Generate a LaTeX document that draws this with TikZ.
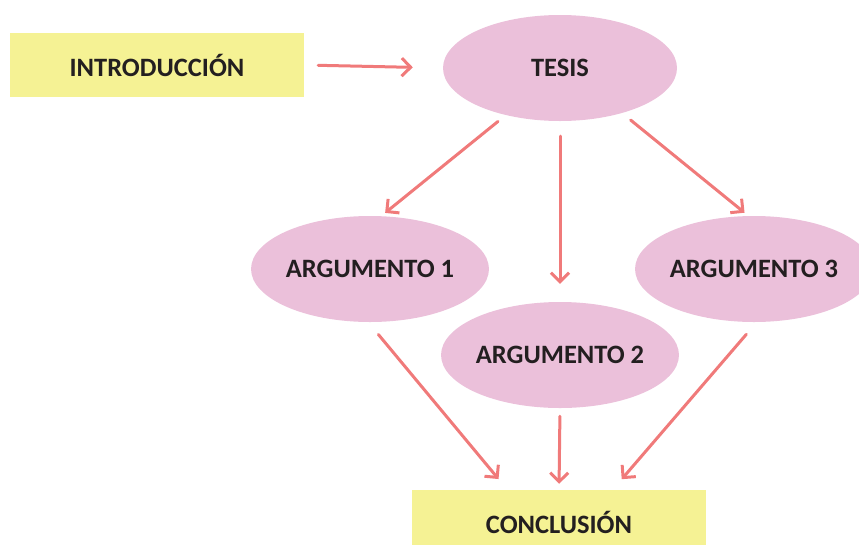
\documentclass[tikz,border=0pt]{standalone}
\usepackage{fontspec}
\setmainfont{Carlito}
\usepackage{xcolor}
\usetikzlibrary{shapes.geometric,arrows.meta,positioning}
\definecolor{boxyellow}{RGB}{245,242,148}
\definecolor{ovalpink}{RGB}{235,192,218}
\definecolor{arrowred}{RGB}{240,122,122}
\definecolor{textdark}{RGB}{35,31,32}

\begin{document}
\begin{tikzpicture}[x=1pt,y=-1pt,
        rectbox/.style={fill=boxyellow,minimum width=294pt,minimum height=64pt,
                        inner sep=0pt,text=textdark,font=\fontsize{26.5}{30}\selectfont\bfseries},
        oval/.style={ellipse,fill=ovalpink,minimum width=234pt,minimum height=106pt,
                     inner sep=0pt,text=textdark,font=\fontsize{26.5}{30}\selectfont\bfseries},
        arrow/.style={-{Straight Barb[length=9pt,width=18pt,line width=3pt]},
                      line width=3pt,arrowred,line cap=round}
    ]
        \useasboundingbox (0,0) rectangle (859,544);
        \node[rectbox] (intro) at (157,65) {INTRODUCCIÓN};
        \node[oval] (tesis) at (560,68) {TESIS};
        \node[oval] (arg1) at (370,269) {ARGUMENTO 1};
        \node[oval] (arg2) at (560,355) {ARGUMENTO 2};
        \node[oval] (arg3) at (754,269) {ARGUMENTO 3};
        \node[rectbox] (concl) at (559,522) {CONCLUSIÓN};
        \draw[arrow,shorten <=14pt,shorten >=30pt] (intro.east) -- (tesis.west);
        \draw[arrow,shorten <=10pt,shorten >=5pt] (tesis.221) -- (arg1.78);
        \draw[arrow,shorten <=15pt,shorten >=18pt] (tesis.south) -- (arg2.north);
        \draw[arrow,shorten <=11pt,shorten >=5pt] (tesis.324) -- (arg3.96);
        \draw[arrow,shorten <=16pt,shorten >=14pt] (arg1.268) -- (concl.148);
        \draw[arrow,shorten <=8pt,shorten >=6pt] (arg2.south) -- (concl.north);
        \draw[arrow,shorten <=16pt,shorten >=14pt] (arg3.273) -- (concl.31);
    \end{tikzpicture}
\end{document}
